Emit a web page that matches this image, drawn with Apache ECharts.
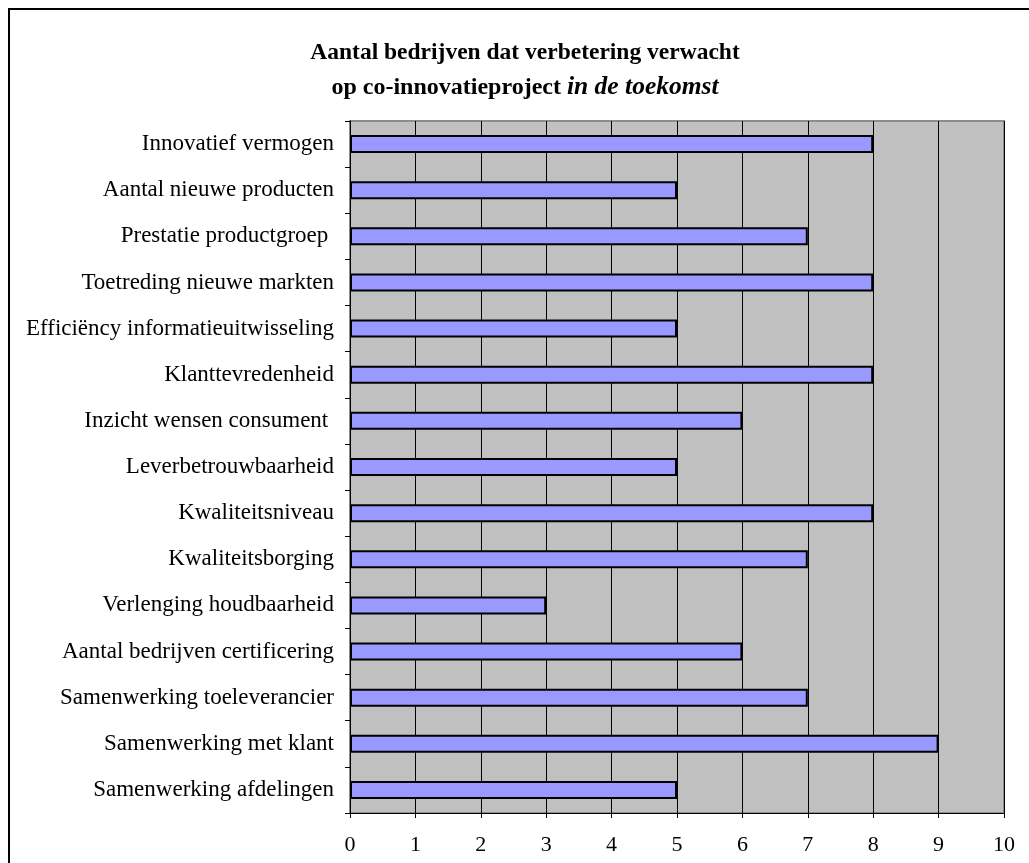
<!DOCTYPE html>
<html>
<head>
<meta charset="utf-8">
<script src="https://cdn.jsdelivr.net/npm/echarts@6/dist/echarts.min.js"></script>
<style>
html,body{margin:0;padding:0;background:#fff;overflow:hidden;}
#frame{position:absolute;left:8px;top:8px;width:1100px;height:900px;border:2px solid #000;box-sizing:border-box;}
#chart{position:absolute;left:0;top:0;width:1029px;height:863px;}
</style>
</head>
<body>
<div id="frame"></div>
<div id="chart"></div>
<script>
const categories = [
  'Innovatief vermogen',
  'Aantal nieuwe producten',
  'Prestatie productgroep ',
  'Toetreding nieuwe markten',
  'Efficiëncy informatieuitwisseling',
  'Klanttevredenheid',
  'Inzicht wensen consument ',
  'Leverbetrouwbaarheid',
  'Kwaliteitsniveau',
  'Kwaliteitsborging',
  'Verlenging houdbaarheid',
  'Aantal bedrijven certificering',
  'Samenwerking toeleverancier',
  'Samenwerking met klant',
  'Samenwerking afdelingen'
];
const values = [8, 5, 7, 8, 5, 8, 6, 5, 8, 7, 3, 6, 7, 9, 5];
const xTicks = [0, 1, 2, 3, 4, 5, 6, 7, 8, 9, 10];

const font = '"Liberation Serif", "DejaVu Serif", serif';
const chart = echarts.init(document.getElementById('chart'));
chart.setOption({
  animation: false,
  backgroundColor: 'transparent',
  title: {
    text: '{b|Aantal bedrijven dat verbetering verwacht}\n{b2|op co-innovatieproject }{i|in de toekomst}',
    left: 520,
    textAlign: 'center',
    top: 30,
    textStyle: {
      rich: {
        b: {fontFamily: font, fontWeight: 'bold', fontSize: 23.5, color: '#000', lineHeight: 35},
        b2: {fontFamily: font, fontWeight: 'bold', fontSize: 24, color: '#000', lineHeight: 35},
        i: {fontFamily: font, fontStyle: 'italic', fontSize: 25.5, color: '#000', lineHeight: 35}
      }
    }
  },
  grid: {
    left: 350, right: 25, top: 121, bottom: 50,
    show: true,
    backgroundColor: '#C0C0C0',
    borderColor: '#8c8c8c',
    borderWidth: 2
  },
  xAxis: {
    type: 'value',
    min: xTicks[0],
    max: xTicks[xTicks.length - 1],
    interval: 1,
    axisLine: {show: true, lineStyle: {color: '#000', width: 1}},
    axisTick: {show: true, length: 5, lineStyle: {color: '#000'}},
    splitLine: {show: true, lineStyle: {color: '#000', width: 1}},
    axisLabel: {fontFamily: font, fontSize: 22, color: '#000', margin: 21}
  },
  yAxis: {
    type: 'category',
    data: categories,
    inverse: true,
    axisLine: {show: true, lineStyle: {color: '#000', width: 1}},
    axisTick: {show: true, length: 5, lineStyle: {color: '#000'}},
    axisLabel: {fontFamily: font, fontSize: 23, color: '#000', margin: 16}
  },
  series: [{
    type: 'bar',
    data: values,
    barWidth: 18,
    itemStyle: {color: '#9999FF', borderColor: '#000', borderWidth: 2}
  }]
});
</script>
</body>
</html>
